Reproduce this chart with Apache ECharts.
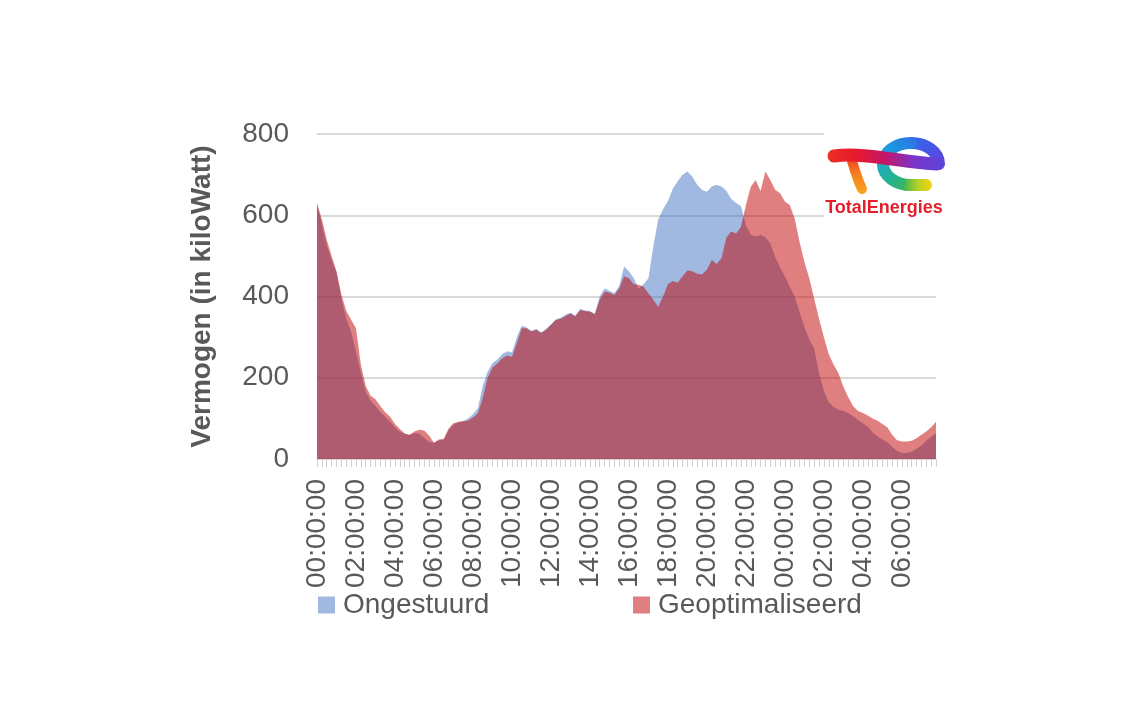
<!DOCTYPE html>
<html><head><meta charset="utf-8">
<script src="https://cdn.jsdelivr.net/npm/echarts@6/dist/echarts.min.js"></script>
<style>html,body{margin:0;padding:0;background:#fff}#c{width:1135px;height:703px}</style>
</head><body><div id="c"></div>
<script>
// 15-minute time slots from 00:00:00 (day 1) to 07:45:00 (day 2)
const categories = [];
for (let h = 0; h < 32; h++) {
  for (let m = 0; m < 60; m += 15) {
    const hh = String(h % 24).padStart(2, '0');
    const mm = String(m).padStart(2, '0');
    categories.push(hh + ':' + mm + ':00');
  }
}
const yTicks = [0, 200, 400, 600, 800];
const ongestuurd = [
  626,578,526,490,459,395,345,313,265,213,165,144,130,116,104,92,78,67,62,59,
  64,62,52,42,40,46,47,70,85,90,93,100,110,125,180,215,236,245,258,265,
  262,300,328,324,316,320,312,320,332,344,348,355,360,353,369,366,364,358,400,420,
  414,408,425,474,462,445,420,430,445,523,589,615,635,665,684,700,708,695,675,662,
  658,671,675,671,660,640,630,622,575,552,548,552,545,531,498,472,450,424,400,362,
  325,295,272,212,168,140,128,121,118,113,105,96,88,80,65,56,48,42,30,20,
  15,15,18,25,33,45,55,63
];
const geoptimaliseerd = [
  630,590,540,500,462,405,365,343,322,232,180,156,147,130,115,104,86,74,63,60,
  68,72,70,58,40,48,50,75,88,92,93,95,102,112,150,200,225,235,248,255,
  252,285,322,322,314,318,310,318,330,342,345,352,358,351,367,364,363,356,392,412,
  410,404,420,450,445,430,429,424,408,392,375,400,430,438,434,450,464,462,456,454,
  466,490,480,495,545,560,555,572,625,670,687,660,708,687,663,654,634,625,592,535,
  485,445,395,345,300,258,232,211,178,152,130,118,113,107,100,94,86,78,60,46,
  43,43,45,51,60,68,78,92
];

const FONT = '"Liberation Sans", Arial, sans-serif';
const TXT = '#595959';
const chart = echarts.init(document.getElementById('c'));

function lg(x1, y1, x2, y2, stops) {
  return { type: 'linear', x: x1, y: y1, x2: x2, y2: y2, global: false,
    colorStops: stops.map((c, i) => ({ offset: i / (stops.length - 1), color: c })) };
}

chart.setOption({
  animation: false,
  backgroundColor: '#fff',
  grid: { left: 317, right: 199, top: 134, bottom: 244, containLabel: false, outerBoundsMode: 'none' },
  xAxis: {
    type: 'category', boundaryGap: false, data: categories,
    axisLine: { show: true, lineStyle: { color: '#D9D9D9', width: 1 } },
    axisTick: { show: true, interval: 0, length: 8, lineStyle: { color: '#CFCFCF' } },
    axisLabel: { interval: 7, rotate: 90, margin: 20, fontSize: 28, color: TXT, fontFamily: FONT },
    splitLine: { show: false }
  },
  yAxis: {
    type: 'value', min: yTicks[0], max: yTicks[yTicks.length - 1], interval: 200,
    axisLine: { show: false }, axisTick: { show: false },
    axisLabel: { fontSize: 28, color: TXT, fontFamily: FONT, margin: 28 },
    splitLine: { lineStyle: { color: '#D9D9D9', width: 2 } },
    name: 'Vermogen (in kiloWatt)', nameLocation: 'middle', nameGap: 101,
    nameTextStyle: { fontSize: 28, fontWeight: 'bold', color: TXT, fontFamily: FONT }
  },
  legend: [
    { data: ['Ongestuurd'], left: 313, top: 586, itemWidth: 17, itemHeight: 17, icon: 'rect',
      itemStyle: { color: 'rgba(68,114,196,0.5)' },
      textStyle: { fontSize: 28, color: TXT, fontFamily: FONT, padding: [0, 0, 0, 3] } },
    { data: ['Geoptimaliseerd'], left: 628, top: 586, itemWidth: 17, itemHeight: 17, icon: 'rect',
      itemStyle: { color: 'rgba(192,0,0,0.5)' },
      textStyle: { fontSize: 28, color: TXT, fontFamily: FONT, padding: [0, 0, 0, 3] } }
  ],
  series: [
    { name: 'Ongestuurd', type: 'line', data: ongestuurd, symbol: 'none', silent: true,
      lineStyle: { width: 0 }, itemStyle: { color: 'rgba(68,114,196,0.5)' },
      areaStyle: { color: '#4472C4', opacity: 0.5 }, z: 2 },
    { name: 'Geoptimaliseerd', type: 'line', data: geoptimaliseerd, symbol: 'none', silent: true,
      lineStyle: { width: 0 }, itemStyle: { color: 'rgba(192,0,0,0.5)' },
      areaStyle: { color: '#C00000', opacity: 0.5 }, z: 3 }
  ],
  graphic: [
    { type: 'rect', z: 100, shape: { x: 824, y: 118, width: 126, height: 106 }, style: { fill: '#fff' } },
    // T stem
    { type: 'bezierCurve', z: 101, shape: { x1: 852, y1: 161, cpx1: 855, cpy1: 171, cpx2: 858, cpy2: 181, x2: 862, y2: 189 },
      style: { fill: null, stroke: lg(0, 0, 0, 1, ['#EE3B24', '#F58220', '#F9A51B']), lineWidth: 10, lineCap: 'round' } },
    // e loop
    { type: 'bezierCurve', z: 101, shape: { x1: 939, y1: 164, cpx1: 939, cpy1: 152.4, cpx2: 926.5, cpy2: 143, x2: 911, y2: 143 },
      style: { fill: null, stroke: lg(1, 1, 0, 0, ['#6A3AD6', '#4457E6', '#2F6FE6']), lineWidth: 12, lineCap: 'round' } },
    { type: 'bezierCurve', z: 101, shape: { x1: 911, y1: 143, cpx1: 895.5, cpy1: 143, cpx2: 883, cpy2: 152.4, x2: 883, y2: 164 },
      style: { fill: null, stroke: lg(1, 0, 0, 1, ['#2F6FE6', '#1E95E0', '#19A9D6']), lineWidth: 12, lineCap: 'round' } },
    { type: 'bezierCurve', z: 101, shape: { x1: 883, y1: 164, cpx1: 883, cpy1: 175.6, cpx2: 895.5, cpy2: 185, x2: 911, y2: 185 },
      style: { fill: null, stroke: lg(0, 0, 1, 1, ['#19A9D6', '#25B38A', '#45B649']), lineWidth: 12, lineCap: 'round' } },
    { type: 'line', z: 101, shape: { x1: 910, y1: 185, x2: 926, y2: 185 },
      style: { stroke: lg(0, 0, 1, 0, ['#45B649', '#B8D028', '#F5D40F']), lineWidth: 12, lineCap: 'round' } },
    // T bar
    { type: 'bezierCurve', z: 102, shape: { x1: 834, y1: 156, cpx1: 865, cpy1: 152, cpx2: 900, cpy2: 162, x2: 937, y2: 164 },
      style: { fill: null, stroke: lg(0, 0, 1, 0, ['#EE2E24', '#E8192C', '#C3166B', '#7A35C8', '#5A45DA']), lineWidth: 13, lineCap: 'round' } },
    { type: 'text', z: 103, x: 884, y: 208,
      style: { text: 'TotalEnergies', fill: '#E4202C', font: 'bold 18px "Liberation Sans", Arial, sans-serif',
        align: 'center', verticalAlign: 'middle', textAlign: 'center', textVerticalAlign: 'middle' } }
  ]
});
</script>
</body></html>
